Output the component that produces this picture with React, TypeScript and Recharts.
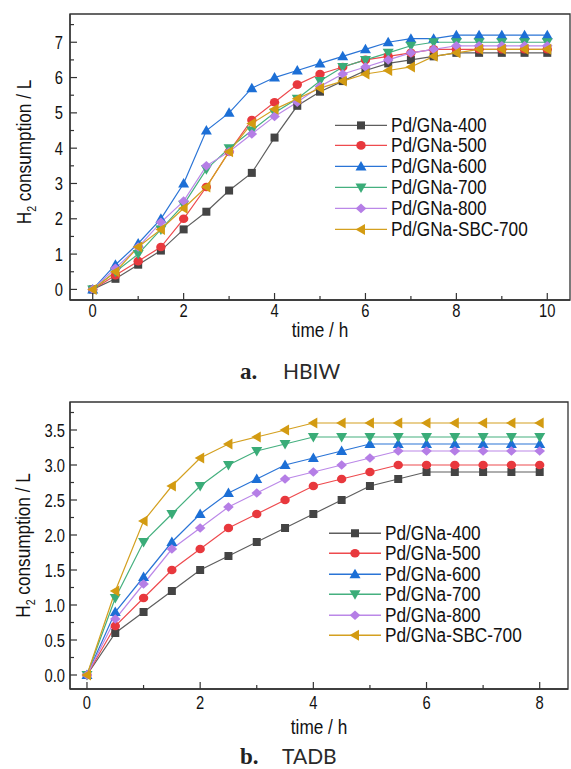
import React from 'react';
import { LineChart, Line, XAxis, YAxis, ReferenceArea, Legend, Label } from 'recharts';

const FONT = "'Liberation Sans', Arial, Helvetica, sans-serif";
const SX = 0.82; // horizontal condensation of the narrow sans used in the figure

const seriesNames = ['Pd/GNa-400', 'Pd/GNa-500', 'Pd/GNa-600', 'Pd/GNa-700', 'Pd/GNa-800', 'Pd/GNa-SBC-700'];
const lineColors = ['#5e5e5e', '#ee4a4e', '#2a74d6', '#45b07f', '#bb88e8', '#d4a020'];
const markerColors = ['#444444', '#e8383d', '#1c6fd6', '#3aac78', '#b57ee6', '#d39b12'];
const markerShapes = ['square', 'circle', 'up', 'down', 'diamond', 'left'];

// Chart a: HBIW
const timeA = [0, 0.5, 1, 1.5, 2, 2.5, 3, 3.5, 4, 4.5, 5, 5.5, 6, 6.5, 7, 7.5, 8, 8.5, 9, 9.5, 10];
const hbiw400 = [0, 0.3, 0.7, 1.1, 1.7, 2.2, 2.8, 3.3, 4.3, 5.2, 5.6, 5.9, 6.2, 6.4, 6.5, 6.6, 6.7, 6.7, 6.7, 6.7, 6.7];
const hbiw500 = [0, 0.4, 0.8, 1.2, 2.0, 2.9, 3.9, 4.8, 5.3, 5.8, 6.1, 6.3, 6.5, 6.6, 6.7, 6.8, 6.8, 6.8, 6.8, 6.8, 6.8];
const hbiw600 = [0, 0.7, 1.3, 2.0, 3.0, 4.5, 5.0, 5.7, 6.0, 6.2, 6.4, 6.6, 6.8, 7.0, 7.1, 7.1, 7.2, 7.2, 7.2, 7.2, 7.2];
const hbiw700 = [0, 0.5, 1.0, 1.7, 2.4, 3.4, 4.0, 4.5, 5.0, 5.4, 5.9, 6.3, 6.5, 6.7, 6.9, 7.0, 7.0, 7.0, 7.0, 7.0, 7.0];
const hbiw800 = [0, 0.6, 1.2, 1.9, 2.5, 3.5, 3.9, 4.4, 4.9, 5.3, 5.75, 6.1, 6.3, 6.5, 6.7, 6.8, 6.9, 6.9, 6.9, 6.9, 6.9];
const hbiwSBC = [0, 0.5, 1.2, 1.7, 2.3, 2.9, 3.9, 4.7, 5.1, 5.4, 5.7, 5.9, 6.1, 6.2, 6.3, 6.6, 6.7, 6.8, 6.8, 6.8, 6.8];
const xTicksA = [0, 1, 2, 3, 4, 5, 6, 7, 8, 9, 10];
const yTicksA = [0, 0.5, 1, 1.5, 2, 2.5, 3, 3.5, 4, 4.5, 5, 5.5, 6, 6.5, 7, 7.5];

// Chart b: TADB
const timeB = [0, 0.5, 1, 1.5, 2, 2.5, 3, 3.5, 4, 4.5, 5, 5.5, 6, 6.5, 7, 7.5, 8];
const tadb400 = [0, 0.6, 0.9, 1.2, 1.5, 1.7, 1.9, 2.1, 2.3, 2.5, 2.7, 2.8, 2.9, 2.9, 2.9, 2.9, 2.9];
const tadb500 = [0, 0.7, 1.1, 1.5, 1.8, 2.1, 2.3, 2.5, 2.7, 2.8, 2.9, 3.0, 3.0, 3.0, 3.0, 3.0, 3.0];
const tadb600 = [0, 0.9, 1.4, 1.9, 2.3, 2.6, 2.8, 3.0, 3.1, 3.2, 3.3, 3.3, 3.3, 3.3, 3.3, 3.3, 3.3];
const tadb700 = [0, 1.1, 1.9, 2.3, 2.7, 3.0, 3.2, 3.3, 3.4, 3.4, 3.4, 3.4, 3.4, 3.4, 3.4, 3.4, 3.4];
const tadb800 = [0, 0.8, 1.3, 1.8, 2.1, 2.4, 2.6, 2.8, 2.9, 3.0, 3.1, 3.2, 3.2, 3.2, 3.2, 3.2, 3.2];
const tadbSBC = [0, 1.2, 2.2, 2.7, 3.1, 3.3, 3.4, 3.5, 3.6, 3.6, 3.6, 3.6, 3.6, 3.6, 3.6, 3.6, 3.6];
const xTicksB = [0, 1, 2, 3, 4, 5, 6, 7, 8];
const yTicksB = [0, 0.25, 0.5, 0.75, 1, 1.25, 1.5, 1.75, 2, 2.25, 2.5, 2.75, 3, 3.25, 3.5, 3.75];

const buildRows = (time: number[], series: number[][]) =>
  time.map((t, i) => {
    const row: any = { t };
    series.forEach((s, k) => { row['s' + k] = s[i]; });
    return row;
  });

const dataA = buildRows(timeA, [hbiw400, hbiw500, hbiw600, hbiw700, hbiw800, hbiwSBC]);
const dataB = buildRows(timeB, [tadb400, tadb500, tadb600, tadb700, tadb800, tadbSBC]);

function Marker({ shape, cx, cy, color }: any) {
  switch (shape) {
    case 'square':
      return <rect x={cx - 4} y={cy - 4} width={8} height={8} fill={color} />;
    case 'circle':
      return <ellipse cx={cx} cy={cy} rx={4.7} ry={4.3} fill={color} />;
    case 'up':
      return <polygon points={`${cx},${cy - 5.5} ${cx + 5.5},${cy + 4} ${cx - 5.5},${cy + 4}`} fill={color} />;
    case 'down':
      return <polygon points={`${cx},${cy + 5.5} ${cx + 5.5},${cy - 4} ${cx - 5.5},${cy - 4}`} fill={color} />;
    case 'diamond':
      return <polygon points={`${cx},${cy - 4.8} ${cx + 5.3},${cy} ${cx},${cy + 4.8} ${cx - 5.3},${cy}`} fill={color} />;
    default:
      return <polygon points={`${cx - 5.5},${cy} ${cx + 4},${cy - 5.5} ${cx + 4},${cy + 5.5}`} fill={color} />;
  }
}

const isMajor = (v: number, step: number) => Math.abs(v / step - Math.round(v / step)) < 1e-6;

function NarrowText({ x, y, anchor, size, children, rotate }: any) {
  const tr = `translate(${x},${y})${rotate ? ` rotate(${rotate})` : ''} scale(${SX},1)`;
  return (
    <g transform={tr}>
      <text x={0} y={0} textAnchor={anchor} fontFamily={FONT} fontSize={size} fill="#111">
        {children}
      </text>
    </g>
  );
}

function makeXTick(step: number, labelDy: number) {
  return (props: any) => {
    const { x, y, payload } = props;
    const major = isMajor(payload.value, step);
    return (
      <g>
        <line x1={x} y1={y} x2={x} y2={y - (major ? 7 : 4)} stroke="#333" strokeWidth={1.2} />
        {major && (
          <NarrowText x={x} y={y + labelDy} anchor="middle" size={18}>
            {payload.value}
          </NarrowText>
        )}
      </g>
    );
  };
}

function makeYTick(step: number, gap: number, fmt: (v: number) => string) {
  return (props: any) => {
    const { x, y, payload } = props;
    const major = isMajor(payload.value, step);
    return (
      <g>
        <line x1={x} y1={y} x2={x + (major ? 7 : 4)} y2={y} stroke="#333" strokeWidth={1.2} />
        {major && (
          <NarrowText x={x - gap} y={y + 6.5} anchor="end" size={18}>
            {fmt(payload.value)}
          </NarrowText>
        )}
      </g>
    );
  };
}

function LegendBox({ rowH }: { rowH: number }) {
  return (
    <div style={{ fontFamily: FONT, fontSize: 20, color: '#111', background: '#fff' }}>
      {seriesNames.map((name, k) => (
        <div key={name} style={{ display: 'flex', alignItems: 'center', height: rowH, whiteSpace: 'nowrap' }}>
          <svg width={56} height={rowH} style={{ display: 'block', flex: 'none' }}>
            <line x1={0} y1={rowH / 2} x2={52} y2={rowH / 2} stroke={lineColors[k]} strokeWidth={1.3} />
            <Marker shape={markerShapes[k]} cx={26} cy={rowH / 2} color={markerColors[k]} />
          </svg>
          <span
            style={{
              display: 'inline-block',
              lineHeight: rowH + 'px',
              transform: 'scaleX(0.86)',
              transformOrigin: 'left center',
            }}
          >
            {name}
          </span>
        </div>
      ))}
    </div>
  );
}

function YTitle({ viewBox, dx, dy }: any) {
  const cx = viewBox.x + dx;
  const cy = viewBox.y + viewBox.height / 2 + dy;
  return (
    <g transform={`translate(${cx},${cy}) rotate(-90) scale(${SX},1)`}>
      <text x={0} y={7} textAnchor="middle" fontFamily={FONT} fontSize={21} fill="#111">
        <tspan>H</tspan>
        <tspan fontSize={13} dy={5}>2</tspan>
        <tspan dy={-5}> consumption / L</tspan>
      </text>
    </g>
  );
}

function XTitle({ viewBox, dy }: any) {
  return (
    <NarrowText x={viewBox.x + viewBox.width / 2} y={viewBox.y + dy} anchor="middle" size={21}>
      time / h
    </NarrowText>
  );
}

function Panel(p: any) {
  const {
    data, width, height, margin, xDomain, yDomain, xTicks, yTicks, xStep, yStep,
    xLabelDy, yGap, yFmt, xTitleDy, yTitleDx, yTitleDy, legendLeft, legendTop, legendRow,
  } = p;
  return (
    <LineChart width={width} height={height} data={data} margin={margin}>
      <ReferenceArea
        x1={xDomain[0]} x2={xDomain[1]} y1={yDomain[0]} y2={yDomain[1]}
        fill="none" stroke="#333" strokeWidth={1.3} fillOpacity={0} ifOverflow="visible"
      />
      <XAxis
        dataKey="t" type="number" domain={xDomain} ticks={xTicks} interval={0}
        allowDataOverflow height={30} tickSize={0} tickMargin={0}
        axisLine={{ stroke: '#333', strokeWidth: 1.3 }} tickLine={false}
        tick={makeXTick(xStep, xLabelDy)}
      >
        <Label content={(lp: any) => <XTitle viewBox={lp.viewBox} dy={xTitleDy} />} />
      </XAxis>
      <YAxis
        type="number" domain={yDomain} ticks={yTicks} interval={0}
        allowDataOverflow width={40} tickSize={0} tickMargin={0}
        axisLine={{ stroke: '#333', strokeWidth: 1.3 }} tickLine={false}
        tick={makeYTick(yStep, yGap, yFmt)}
      >
        <Label content={(lp: any) => <YTitle viewBox={lp.viewBox} dx={yTitleDx} dy={yTitleDy} />} />
      </YAxis>
      <Legend
        layout="vertical" align="center" verticalAlign="middle"
        wrapperStyle={{ position: 'absolute', left: legendLeft, top: legendTop, width: 190, height: legendRow * 6 }}
        content={() => <LegendBox rowH={legendRow} />}
      />
      {seriesNames.map((name, k) => (
        <Line
          key={name}
          name={name}
          dataKey={'s' + k}
          stroke={lineColors[k]}
          strokeWidth={1.2}
          isAnimationActive={false}
          dot={(dp: any) => (
            <Marker key={'d' + k + '-' + dp.index} shape={markerShapes[k]} cx={dp.cx} cy={dp.cy} color={markerColors[k]} />
          )}
          activeDot={false}
        />
      ))}
    </LineChart>
  );
}

export default function App() {
  return (
    <div style={{ position: 'absolute', left: 0, top: 0, width: 571, height: 769, background: '#fff' }}>
      <div style={{ position: 'absolute', left: 0, top: 0 }}>
        <Panel
          data={dataA} width={571} height={345}
          margin={{ top: 14, right: 1, left: 30, bottom: 15 }}
          xDomain={[-0.5, 10.5]} yDomain={[-0.3, 7.8]}
          xTicks={xTicksA} yTicks={yTicksA} xStep={2} yStep={1}
          xLabelDy={16.5} yGap={7} yFmt={(v: number) => String(v)}
          xTitleDy={37} yTitleDx={-6} yTitleDy={-5}
          legendLeft={335} legendTop={114.6} legendRow={20.8}
        />
      </div>
      <div style={{ position: 'absolute', left: 0, top: 380 }}>
        <Panel
          data={dataB} width={571} height={380}
          margin={{ top: 22, right: 3, left: 30, bottom: 41 }}
          xDomain={[-0.3, 8.5]} yDomain={[-0.2, 3.9]}
          xTicks={xTicksB} yTicks={yTicksB} xStep={2} yStep={0.5}
          xLabelDy={20} yGap={5} yFmt={(v: number) => v.toFixed(1)}
          xTitleDy={45} yTitleDx={-7} yTitleDy={0}
          legendLeft={329} legendTop={142.5} legendRow={20.5}
        />
      </div>
      <svg width={571} height={769} style={{ position: 'absolute', left: 0, top: 0, pointerEvents: 'none' }}>
        <text x={240} y={379} fontFamily="'Liberation Serif', 'Times New Roman', serif" fontWeight="bold" fontSize={23} fill="#222">a.</text>
        <text x={283} y={379} fontFamily="Lato, 'Open Sans', sans-serif" fontWeight={400} fontSize={21} fill="#2a2a2a">HBIW</text>
        <text x={240} y={764} fontFamily="'Liberation Serif', 'Times New Roman', serif" fontWeight="bold" fontSize={23} fill="#222">b.</text>
        <text x={282} y={764} fontFamily="Lato, 'Open Sans', sans-serif" fontWeight={400} fontSize={21} fill="#2a2a2a">TADB</text>
      </svg>
    </div>
  );
}
